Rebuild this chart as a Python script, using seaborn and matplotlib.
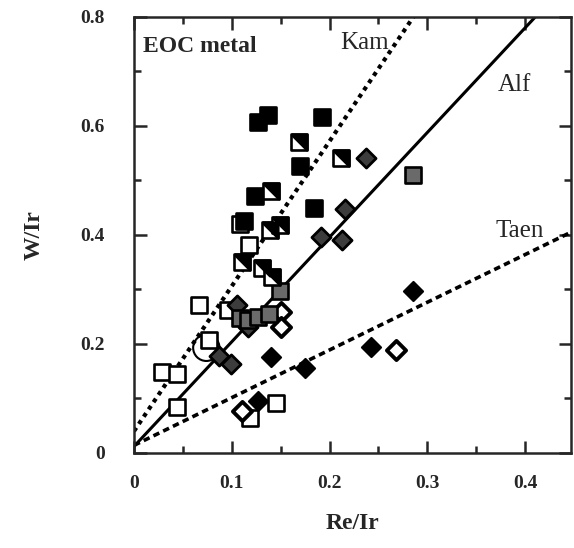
import numpy as np
import pandas as pd
import seaborn as sns
import matplotlib.pyplot as plt

# data (Re/Ir, W/Ir)
open_sq_x = [0.108, 0.118, 0.067, 0.096, 0.077, 0.029, 0.044, 0.044, 0.145, 0.119]
open_sq_y = [0.420, 0.382, 0.272, 0.263, 0.208, 0.149, 0.145, 0.085, 0.092, 0.065]

black_sq_x = [0.127, 0.137, 0.192, 0.170, 0.124, 0.184, 0.113]
black_sq_y = [0.607, 0.621, 0.616, 0.526, 0.472, 0.450, 0.425]

half_sq_x = [0.169, 0.140, 0.212, 0.139, 0.149, 0.110, 0.131, 0.141]
half_sq_y = [0.570, 0.480, 0.542, 0.410, 0.419, 0.351, 0.340, 0.322]

gray_sq_x = [0.149, 0.285, 0.108, 0.117, 0.127, 0.138]
gray_sq_y = [0.298, 0.510, 0.248, 0.244, 0.250, 0.255]

gray_dm_x = [0.237, 0.216, 0.191, 0.213, 0.105, 0.117, 0.087, 0.099]
gray_dm_y = [0.542, 0.447, 0.397, 0.390, 0.272, 0.232, 0.178, 0.164]

black_dm_x = [0.140, 0.175, 0.242, 0.127, 0.285]
black_dm_y = [0.177, 0.156, 0.195, 0.095, 0.298]

open_dm_x = [0.150, 0.150, 0.268, 0.110]
open_dm_y = [0.259, 0.232, 0.189, 0.077]

circle_x = [0.074]
circle_y = [0.193]

# reference lines: intercept, slope, label
line_names = ["Kam", "Alf", "Taen"]
line_icpt = [0.040, 0.012, 0.014]
line_slope = [2.66, 1.92, 0.875]

sns.set_style("ticks")
plt.rcParams['font.family'] = ['Liberation Serif', 'DejaVu Serif']

fig = plt.figure(figsize=(5.74, 5.48), dpi=100)
ax = fig.add_axes([0.2334, 0.1734, 0.7614, 0.7956])

xs = np.array([0.0, 0.45])
styles = [(0, (1, 1.1)), '-', (0, (1.8, 1.2))]
widths = [3.0, 2.2, 2.6]
for icpt, slope, ls, lw in zip(line_icpt, line_slope, styles, widths):
    sns.lineplot(x=xs, y=icpt + slope * xs, ax=ax, color='black', lw=lw,
                 linestyle=ls, zorder=1)

sq = 125
dm = 95
sns.scatterplot(x=circle_x, y=circle_y, ax=ax, marker='o', s=360,
                facecolor='none', edgecolor='black', linewidth=1.5, zorder=2)
sns.scatterplot(x=open_sq_x, y=open_sq_y, ax=ax, marker='s', s=sq,
                facecolor='white', edgecolor='black', linewidth=1.9, zorder=3)
sns.scatterplot(x=gray_dm_x, y=gray_dm_y, ax=ax, marker='D', s=dm,
                facecolor='#3c3c3c', edgecolor='black', linewidth=2.0, zorder=3)
sns.scatterplot(x=black_dm_x, y=black_dm_y, ax=ax, marker='D', s=dm,
                facecolor='black', edgecolor='black', linewidth=1.5, zorder=3)
sns.scatterplot(x=open_dm_x, y=open_dm_y, ax=ax, marker='D', s=dm,
                facecolor='white', edgecolor='black', linewidth=2.8, zorder=3)
sns.scatterplot(x=gray_sq_x, y=gray_sq_y, ax=ax, marker='s', s=sq,
                facecolor='#6a6a6a', edgecolor='black', linewidth=1.9, zorder=4)
sns.scatterplot(x=black_sq_x, y=black_sq_y, ax=ax, marker='s', s=sq,
                facecolor='black', edgecolor='black', linewidth=1.9, zorder=4)
sns.scatterplot(x=half_sq_x, y=half_sq_y, ax=ax, marker='s', s=sq,
                facecolor='white', edgecolor='black', linewidth=1.9, zorder=5)
tri = [(-1, 1), (1, 1), (1, -1), (-1, 1)]
sns.scatterplot(x=half_sq_x, y=half_sq_y, ax=ax, marker=tri, s=sq,
                facecolor='black', edgecolor='black', linewidth=1.9, zorder=6)

ax.set_xlim(0, 0.447)
ax.set_ylim(0, 0.8)
ax.set_xticks([0, 0.1, 0.2, 0.3, 0.4])
ax.set_xticklabels(['0', '0.1', '0.2', '0.3', '0.4'])
ax.set_xticks(np.arange(0.05, 0.45, 0.1), minor=True)
ax.set_yticks([0, 0.2, 0.4, 0.6, 0.8])
ax.set_yticklabels(['0', '0.2', '0.4', '0.6', '0.8'])
ax.set_yticks([0.1, 0.3, 0.5, 0.7], minor=True)
ax.tick_params(which='both', direction='in', top=True, right=True, width=1.8)
ax.tick_params(which='major', length=9)
ax.tick_params(which='minor', length=5)
ax.tick_params(axis='x', which='major', pad=16, labelsize=14)
ax.tick_params(axis='y', which='major', pad=21, labelsize=14)
for lab in ax.get_xticklabels() + ax.get_yticklabels():
    lab.set_fontweight('bold')
for sp in ax.spines.values():
    sp.set_linewidth(1.8)

ax.set_xlabel('Re/Ir', fontsize=17, fontweight='bold', labelpad=15)
ax.set_ylabel('W/Ir', fontsize=17, fontweight='bold', labelpad=26)

ax.text(0.009, 0.746, 'EOC metal', fontsize=17, fontweight='bold', va='center')
ax.text(0.211, 0.752, 'Kam', fontsize=18, va='center')
ax.text(0.372, 0.676, 'Alf', fontsize=18, va='center')
ax.text(0.370, 0.408, 'Taen', fontsize=18, va='center')

fig.savefig('out.png', dpi=100)
